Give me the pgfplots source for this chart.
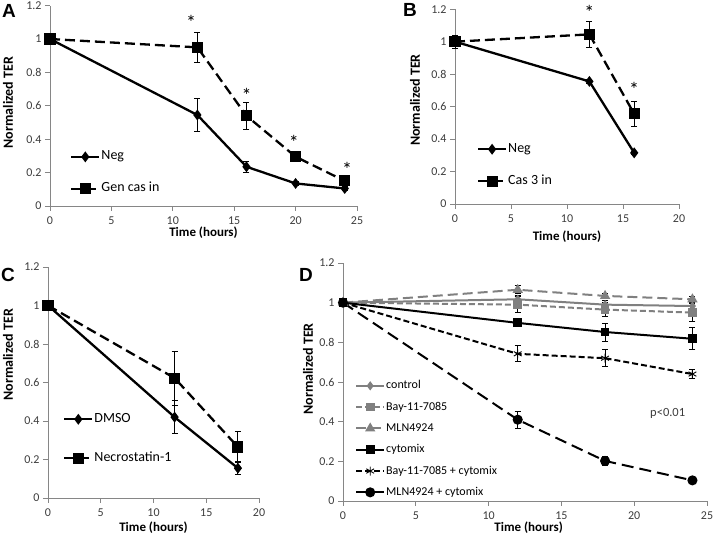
\documentclass[border=0pt]{standalone}
\usepackage{fontspec}
\setmainfont{Carlito}
\newfontfamily\letterfont{Liberation Sans}
\usepackage{pgfplots}
\pgfplotsset{compat=1.18}

\definecolor{axisgray}{RGB}{134,134,134}
\definecolor{ticktext}{RGB}{60,60,60}
\definecolor{sergray}{RGB}{128,128,128}

\tikzset{starnode/.style={anchor=north, inner sep=0pt, font=\fontsize{20}{20}\selectfont}}

\pgfplotsset{
  panel/.style={
    scale only axis, anchor=south west,
    axis x line=bottom, axis y line=left,
    axis line style={-, axisgray, line width=0.8pt},
    tick style={axisgray, line width=0.8pt},
    major tick length=5pt, tick align=outside,
    ymin=0, ymax=1.2, ytick={0,0.2,0.4,0.6,0.8,1,1.2},
    xmin=0,
    /pgf/number format/assume math mode=true,
    tick label style={font=\fontsize{12}{12}\selectfont, text=ticktext},
    xticklabel style={yshift=-2pt},
    ylabel={Normalized TER}, xlabel={Time (hours)},
    ylabel style={font=\bfseries\fontsize{14}{14}\selectfont, anchor=center},
    xlabel style={font=\bfseries\fontsize{13}{13}\selectfont, anchor=center},
    clip=false,
    legend cell align=left,
    legend image code/.code={
      \draw[mark repeat=2,mark phase=2,##1] plot coordinates {(0pt,0pt) (14pt,0pt) (28pt,0pt)};},
    legend style={draw=none, fill=none, inner sep=0pt, anchor=north west,
      font=\fontsize{14}{14}\selectfont,
      nodes={inner sep=1pt, text height=9pt, text depth=3pt}},
  },
  ebar/.style={error bars/.cd, y dir=both, y explicit,
    error bar style={line width=0.8pt, solid, black},
    error mark options={rotate=90, mark size=3pt, line width=0.8pt, black, solid}},
  solidser/.style={black, line width=2.3pt, mark=diamond*, mark size=3.6pt, mark options={solid}},
  dashser/.style={black, line width=2.3pt, dash pattern=on 10pt off 5pt, mark=square*, mark size=4.4pt, mark options={solid}},
}

\begin{document}
\begin{tikzpicture}
\useasboundingbox (0pt,0pt) rectangle (713pt,538pt);

% ---- A ----
\begin{axis}[panel, at={(50pt,332pt)}, width=307pt, height=200.4pt,
  xmax=25, xtick={0,5,...,25},
  ylabel style={at={(axis description cs:-0.137,0.516)}},
  xlabel style={at={(axis description cs:0.5,-0.135)}},
  legend style={at={(axis description cs:0.065,0.281)}, row sep=18pt}]
\addplot[solidser, ebar] coordinates {(0,1) +- (0,0) (12,0.545) +- (0,0.10) (16,0.235) +- (0,0.035) (20,0.135) +- (0,0.01) (24,0.105) +- (0,0.01)};
\addlegendentry{Neg}
\addplot[dashser, ebar] coordinates {(0,1) +- (0,0) (12,0.95) +- (0,0.09) (16,0.54) +- (0,0.08) (20,0.295) +- (0,0.015) (24,0.15) +- (0,0.02)};
\addlegendentry{Gen cas in}
\node[starnode] at (axis cs:11.5,1.145) {*};
\node[starnode] at (axis cs:16,0.705) {*};
\node[starnode] at (axis cs:19.85,0.425) {*};
\node[starnode] at (axis cs:24.2,0.265) {*};
\end{axis}

% ---- B ----
\begin{axis}[panel, at={(455pt,334pt)}, width=224pt, height=194.8pt,
  xmax=20, xtick={0,5,...,20},
  ylabel style={at={(axis description cs:-0.179,0.534)}},
  xlabel style={at={(axis description cs:0.5,-0.17)}},
  legend style={at={(axis description cs:0.097,0.318)}, row sep=18pt}]
\addplot[solidser, ebar] coordinates {(0,1) +- (0,0) (12,0.755) +- (0,0.01) (16,0.315) +- (0,0.01)};
\addlegendentry{Neg}
\addplot[dashser, ebar] coordinates {(0,1) +- (0,0.04) (12,1.045) +- (0,0.08) (16,0.555) +- (0,0.075)};
\addlegendentry{Cas 3 in}
\node[starnode] at (axis cs:12,1.225) {*};
\node[starnode] at (axis cs:16,0.75) {*};
\end{axis}

% ---- C ----
\begin{axis}[panel, at={(48pt,40pt)}, width=211pt, height=231pt,
  xmax=20, xtick={0,5,...,20},
  ylabel style={at={(axis description cs:-0.19,0.62)}},
  xlabel style={at={(axis description cs:0.5,-0.13)}},
  legend style={at={(axis description cs:0.071,0.372)}, row sep=25pt}]
\addplot[solidser, ebar] coordinates {(0,1) +- (0,0) (12,0.42) +- (0,0.085) (18,0.155) +- (0,0.035)};
\addlegendentry{DMSO}
\addplot[dashser, ebar] coordinates {(0,1) +- (0,0) (12,0.623) +- (0,0.14) (18,0.265) +- (0,0.08)};
\addlegendentry{Necrostatin-1}
\end{axis}

% ---- D ----
\begin{axis}[panel, at={(343pt,37pt)}, width=364pt, height=238pt,
  xmax=25, xtick={0,5,...,25},
  ylabel style={at={(axis description cs:-0.096,0.555)}},
  xlabel style={at={(axis description cs:0.51,-0.112)}},
  legend style={at={(axis description cs:0.033,0.512)}, row sep=8.3pt,
    font=\fontsize{12}{12}\selectfont,
    nodes={inner sep=1pt, text height=8.5pt, text depth=2.5pt}}]
\addplot[sergray, line width=2pt, mark=diamond*, mark size=3pt, ebar] coordinates {(0,1) +- (0,0) (12,1.017) +- (0,0.02) (18,0.99) +- (0,0.02) (24,0.983) +- (0,0.02)};
\addlegendentry{control}
\addplot[sergray, line width=2pt, dash pattern=on 6pt off 3pt, mark=square*, mark size=3.3pt, mark options={solid}, ebar] coordinates {(0,1) +- (0,0) (12,0.99) +- (0,0.04) (18,0.965) +- (0,0.035) (24,0.95) +- (0,0.045)};
\addlegendentry{Bay-11-7085}
\addplot[sergray, line width=2pt, dash pattern=on 10pt off 5pt, mark=triangle*, mark size=4pt, mark options={solid}, ebar] coordinates {(0,1) +- (0,0) (12,1.065) +- (0,0.02) (18,1.034) +- (0,0.015) (24,1.017) +- (0,0.015)};
\addlegendentry{MLN4924}
\addplot[black, line width=2pt, mark=square*, mark size=3.4pt, ebar] coordinates {(0,1) +- (0,0) (12,0.898) +- (0,0.02) (18,0.852) +- (0,0.045) (24,0.818) +- (0,0.056)};
\addlegendentry{cytomix}
\addplot[black, line width=2pt, dash pattern=on 6pt off 3pt, mark=asterisk, mark size=4.5pt, mark options={solid, line width=0.9pt}, ebar] coordinates {(0,1) +- (0,0) (12,0.742) +- (0,0.04) (18,0.72) +- (0,0.042) (24,0.64) +- (0,0.022)};
\addlegendentry{Bay-11-7085 + cytomix}
\addplot[black, line width=2pt, dash pattern=on 12pt off 6pt, mark=*, mark size=4pt, mark options={solid}, ebar] coordinates {(0,1) +- (0,0) (12,0.41) +- (0,0.043) (18,0.202) +- (0,0.022) (24,0.104) +- (0,0.008)};
\addlegendentry{MLN4924 + cytomix}
\node[font=\fontsize{12.5}{12.5}\selectfont, text=ticktext] at (axis cs:22.3,0.44) {p<0.01};
\end{axis}

% panel letters
\node[font=\letterfont\bfseries\fontsize{19}{19}\selectfont] at (9pt,527pt) {A};
\node[font=\letterfont\bfseries\fontsize{19}{19}\selectfont] at (410pt,528pt) {B};
\node[font=\letterfont\bfseries\fontsize{19}{19}\selectfont] at (8pt,263pt) {C};
\node[font=\letterfont\bfseries\fontsize{19}{19}\selectfont] at (306pt,263pt) {D};
\end{tikzpicture}
\end{document}
